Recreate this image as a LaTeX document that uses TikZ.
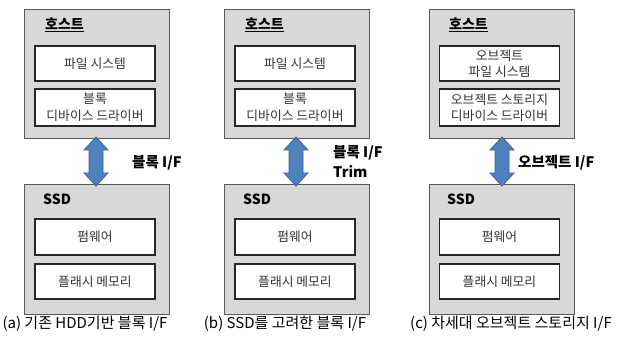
\documentclass[tikz,border=0pt]{standalone}
\usepackage{fontspec}
\setmainfont{Noto Sans CJK KR}
\usetikzlibrary{calc}
\definecolor{boxgray}{HTML}{D8D8D8}
\definecolor{boxline}{HTML}{5A5A5A}
\definecolor{arrblue}{HTML}{4F81BD}
\definecolor{arrline}{HTML}{3A6296}
\definecolor{txtgray}{HTML}{333333}
\tikzset{
  outerbox/.style={draw=boxline, fill=boxgray, line width=1pt, minimum width=145pt, inner sep=0pt},
  innerbox/.style={draw=black!85, fill=white, line width=1.1pt, minimum width=120pt, inner sep=0pt, align=center, font=\fontsize{12.8}{16.5}\selectfont, text=txtgray},
  titletext/.style={font=\fontsize{14}{15}\selectfont\bfseries, anchor=west, inner sep=0pt},
  iflabel/.style={font=\fontsize{14.5}{20}\selectfont\bfseries, anchor=west, inner sep=0pt, align=left},
  captext/.style={font=\fontsize{15}{17}\selectfont, inner sep=0pt},
  blockarrow/.style={fill=arrblue, draw=arrline, line width=0.8pt, line join=miter}
}
\newcommand{\blockarr}[2]{%
  \path[blockarrow] (#1) -- ($(#1)+(12,13)$) -- ($(#1)+(7,13)$) -- ($(#2)+(7,-13)$) -- ($(#2)+(12,-13)$)
   -- (#2) -- ($(#2)+(-12,-13)$) -- ($(#2)+(-7,-13)$) -- ($(#1)+(-7,13)$) -- ($(#1)+(-12,13)$) -- cycle;}
\begin{document}
\begin{tikzpicture}[x=1pt,y=-1pt]
\useasboundingbox[fill=white] (0,0) rectangle (634,341);
% panel a
\node[outerbox, minimum height=129pt] (hA) at (96.5,73.5) {};
\node[titletext] (hAt) at (45,25) {\underline{호스트}};
\node[innerbox, minimum height=35pt] (fsA) at (95,63.5) {파일 시스템};
\node[innerbox, minimum height=37pt] (drA) at (95,107.5) {\raisebox{-2pt}{\parbox{118pt}{\centering 블록\\디바이스 드라이버}}};
\node[outerbox, minimum height=130pt] (sA) at (96.5,249) {};
\node[titletext] (sAt) at (43,199) {SSD};
\node[innerbox, minimum height=36pt] (fwA) at (95,237) {펌웨어};
\node[innerbox, minimum height=35pt] (fmA) at (95,281.5) {플래시 메모리};
\coordinate (atA) at (96,137);
\coordinate (abA) at (96,186);
\blockarr{atA}{abA}
\node[iflabel] (lA) at (132,163) {블록 I/F};
\node[captext] (cA) at (85,324) {(a) 기존 HDD기반 블록 I/F};
% panel b
\node[outerbox, minimum height=129pt] (hB) at (296.5,73.5) {};
\node[titletext] (hBt) at (245,25) {\underline{호스트}};
\node[innerbox, minimum height=35pt] (fsB) at (295,63.5) {파일 시스템};
\node[innerbox, minimum height=37pt] (drB) at (295,107.5) {\raisebox{-2pt}{\parbox{118pt}{\centering 블록\\디바이스 드라이버}}};
\node[outerbox, minimum height=130pt] (sB) at (296.5,249) {};
\node[titletext] (sBt) at (243,199) {SSD};
\node[innerbox, minimum height=36pt] (fwB) at (295,237) {펌웨어};
\node[innerbox, minimum height=35pt] (fmB) at (295,281.5) {플래시 메모리};
\coordinate (atB) at (296,137);
\coordinate (abB) at (296,186);
\blockarr{atB}{abB}
\node[iflabel, anchor=north west] (lB) at (333,145) {블록 I/F\\Trim};
\node[captext] (cB) at (285,324) {(b) SSD를 고려한 블록 I/F};
% panel c
\node[outerbox, minimum height=129pt] (hC) at (501.5,73.5) {};
\node[titletext] (hCt) at (449,25) {\underline{호스트}};
\node[innerbox, minimum height=35pt] (fsC) at (499.5,63.5) {\raisebox{-2pt}{\parbox{118pt}{\centering 오브젝트\\파일 시스템}}};
\node[innerbox, minimum height=37pt] (drC) at (499.5,107.5) {\raisebox{-2pt}{\parbox{118pt}{\centering 오브젝트 스토리지\\디바이스 드라이버}}};
\node[outerbox, minimum height=130pt] (sC) at (501.5,249) {};
\node[titletext] (sCt) at (447,199) {SSD};
\node[innerbox, minimum height=36pt] (fwC) at (499.5,237) {펌웨어};
\node[innerbox, minimum height=35pt] (fmC) at (499.5,281.5) {플래시 메모리};
\coordinate (atC) at (502,137);
\coordinate (abC) at (502,186);
\blockarr{atC}{abC}
\node[iflabel] (lC) at (518,163) {오브젝트 I/F};
\node[captext] (cC) at (511,324) {(c) 차세대 오브젝트 스토리지 I/F};
\end{tikzpicture}
\end{document}
